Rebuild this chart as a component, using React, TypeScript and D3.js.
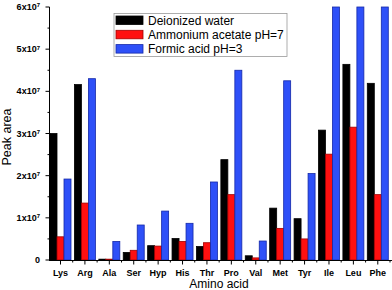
import React from 'react';
import * as d3 from 'd3';

const aminoAcids = ['Lys', 'Arg', 'Ala', 'Ser', 'Hyp', 'His', 'Thr', 'Pro', 'Val', 'Met', 'Tyr', 'Ile', 'Leu', 'Phe'];
const seriesNames = ['Deionized water', 'Ammonium acetate pH=7', 'Formic acid pH=3'];

// peak areas in units of 1e7
const deionized = [3.0, 4.16, 0.02, 0.18, 0.34, 0.51, 0.32, 2.38, 0.1, 1.23, 0.98, 3.08, 4.64, 4.19];
const ammonium = [0.55, 1.35, 0.02, 0.23, 0.33, 0.44, 0.41, 1.55, 0.05, 0.75, 0.5, 2.51, 3.15, 1.55];
const formic = [1.92, 4.3, 0.44, 0.83, 1.16, 0.87, 1.85, 4.5, 0.45, 4.25, 2.05, 6.0, 6.0, 6.0];

const yTicks = [0, 1, 2, 3, 4, 5, 6];

const fills = ['#000000', '#ff1010', '#2e50f8'];
const strokes = ['#000000', '#a00000', '#1428a8'];

const W = 392;
const H = 290;

export default function App() {
  const y = d3.scaleLinear().domain([0, 6]).range([260, 7]);
  const x0 = d3.scaleBand<string>().domain(aminoAcids).range([48.3, 390]).paddingInner(0.14).paddingOuter(0.07);
  const x1 = d3.scaleBand<string>().domain(seriesNames).range([0, x0.bandwidth()]);
  const series = [deionized, ammonium, formic];
  const minorY = d3.range(0.5, 6, 1);
  const axisX = 49.5;
  const baseY = 260.5;

  return (
    <svg width={W} height={H} style={{ position: 'absolute', left: 0, top: 0, background: '#fff' }}
      fontFamily="'Liberation Sans', Arial, sans-serif">
      {/* bars */}
      {series.map((vals, si) => (
        <g key={si}>
          {vals.map((v, i) => {
            const top = y(Math.min(v, 6));
            return (
              <rect key={i}
                x={(x0(aminoAcids[i]) ?? 0) + (x1(seriesNames[si]) ?? 0)}
                y={top}
                width={x1.bandwidth()}
                height={260 - top}
                fill={fills[si]}
                stroke={strokes[si]}
                strokeWidth={0.8} />
            );
          })}
        </g>
      ))}

      {/* y axis */}
      <line x1={axisX} x2={axisX} y1={y(6)} y2={baseY} stroke="#000" strokeWidth={1} />
      {yTicks.map(t => (
        <g key={t} transform={`translate(0,${y(t)})`}>
          <line x1={axisX - 4} x2={axisX} stroke="#000" />
          {t === 0 ? (
            <text x={40} dy="0.35em" textAnchor="end" fontSize={9} fontWeight="bold">0</text>
          ) : (
            <text x={40} dy="0.35em" textAnchor="end" fontSize={9} fontWeight="bold">
              {t}x10<tspan fontSize={6} dy="-0.45em">7</tspan>
            </text>
          )}
        </g>
      ))}
      {minorY.map(t => (
        <line key={t} x1={axisX - 2} x2={axisX} y1={y(t)} y2={y(t)} stroke="#000" />
      ))}

      {/* x axis */}
      <line x1={axisX - 0.5} x2={W} y1={baseY} y2={baseY} stroke="#000" strokeWidth={1} />
      {aminoAcids.map(a => {
        const cx = (x0(a) ?? 0) + x0.bandwidth() / 2;
        const edge = (x0(a) ?? 0) + x0.bandwidth() + (x0.step() - x0.bandwidth()) / 2;
        return (
          <g key={a}>
            <line x1={cx} x2={cx} y1={baseY} y2={baseY + 4} stroke="#000" />
            <line x1={edge} x2={edge} y1={baseY} y2={baseY + 2} stroke="#000" />
            <text x={cx} y={276} textAnchor="middle" fontSize={9} fontWeight="bold">{a}</text>
          </g>
        );
      })}

      {/* axis titles */}
      <text x={219} y={288} textAnchor="middle" fontSize={12}>Amino acid</text>
      <text transform="translate(11,137) rotate(-90)" textAnchor="middle" fontSize={12.5}>Peak area</text>

      {/* legend */}
      <rect x={114} y={13.5} width={173} height={43} fill="#fff" stroke="#999" strokeWidth={0.8} />
      {seriesNames.map((s, i) => (
        <g key={s} transform={`translate(116,${16 + i * 14.3})`}>
          <rect width={27} height={8.5} fill={fills[i]} stroke={strokes[i]} strokeWidth={0.8} />
          <text x={32} y={8.5} fontSize={12}>{s}</text>
        </g>
      ))}
    </svg>
  );
}
